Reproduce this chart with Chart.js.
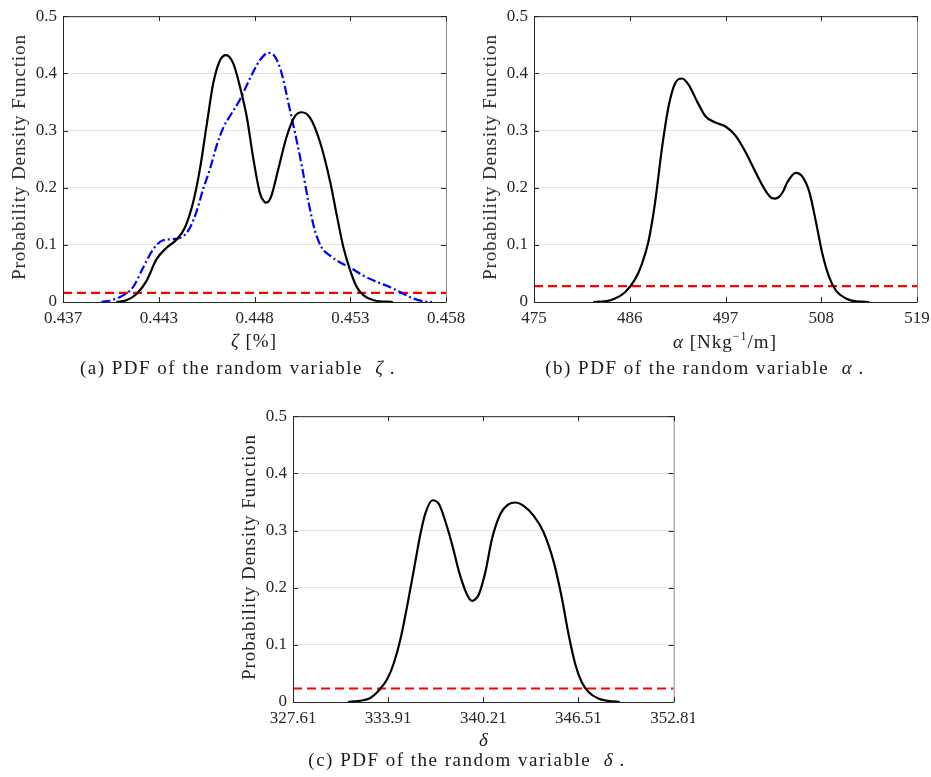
<!DOCTYPE html>
<html>
<head>
<meta charset="utf-8">
<script src="https://cdn.jsdelivr.net/npm/chart.js@4"></script>
<style>
  body { margin: 0; background: #fff; width: 931px; height: 777px; position: relative; overflow: hidden;
         font-family: "Liberation Serif", "DejaVu Serif", serif; color: #262626; }
  .box { position: absolute; }
  .txt { position: absolute; white-space: nowrap; transform: translate(-50%, -50%); font-size: 19px; color: #1a1a1a; letter-spacing: 1px; }
  .cap { letter-spacing: 1.5px; }
  .ytitle { position: absolute; white-space: nowrap; transform: translate(-50%, -50%) rotate(-90deg);
            font-size: 19px; letter-spacing: 0.9px; color: #262626; }
</style>
</head>
<body>
<div class="box" style="left:0;top:0;width:465px;height:350px"><canvas id="chart-a"></canvas></div>
<div class="box" style="left:471px;top:0;width:460px;height:350px"><canvas id="chart-b"></canvas></div>
<div class="box" style="left:230px;top:400px;width:465px;height:350px"><canvas id="chart-c"></canvas></div>

<div class="ytitle" style="left:19px;top:157px">Probability Density Function</div>
<div class="ytitle" style="left:490px;top:157px">Probability Density Function</div>
<div class="ytitle" style="left:249px;top:557px">Probability Density Function</div>

<div class="txt" style="left:254px;top:341px"><i>ζ</i> [%]</div>
<div class="txt" style="left:725px;top:341px"><i>α</i> [Nkg<sup style="font-size:12px">−1</sup>/m]</div>
<div class="txt" style="left:484px;top:740px"><i>δ</i></div>

<div class="txt cap" style="left:238px;top:368px">(a) PDF of the random variable &nbsp;<i>ζ</i>&thinsp;.</div>
<div class="txt cap" style="left:705px;top:368px">(b) PDF of the random variable &nbsp;<i>α</i>&thinsp;.</div>
<div class="txt cap" style="left:467px;top:760px">(c) PDF of the random variable &nbsp;<i>δ</i>&thinsp;.</div>

<script>
// ---- data ----
const yTicks = [0, 0.1, 0.2, 0.3, 0.4, 0.5];

// (a) zeta
const zetaTickLabels = ['0.437', '0.443', '0.448', '0.453', '0.458'];
const zetaRange = [0.437, 0.458];
const zetaX = [0.43993, 0.44048, 0.44103, 0.44158, 0.44213, 0.44268, 0.44322, 0.44368, 0.44414, 0.44451, 0.44487,
  0.44524, 0.44561, 0.44594, 0.44634, 0.44670, 0.44707, 0.44744, 0.44780, 0.44800, 0.44813, 0.44828, 0.44844, 0.44881, 0.44927,
  0.44972, 0.45009, 0.45055, 0.45110, 0.45165, 0.45201, 0.45238, 0.45275, 0.45311, 0.45348, 0.45403, 0.45509];
const zetaPdf = [0, 0.003, 0.014, 0.037, 0.075, 0.095, 0.109, 0.13, 0.175, 0.233, 0.308,
  0.383, 0.423, 0.432, 0.417, 0.377, 0.325, 0.25, 0.19, 0.177, 0.174, 0.176, 0.187, 0.233, 0.29,
  0.325, 0.332, 0.322, 0.279, 0.21, 0.152, 0.095, 0.055, 0.026, 0.0115, 0.003, 0];
const zetaX2 = [0.43911, 0.43975, 0.44029, 0.44084, 0.44139, 0.44194, 0.44249, 0.44304, 0.44359, 0.44396, 0.44432,
  0.44469, 0.44506, 0.44542, 0.44579, 0.44615, 0.44670, 0.44725, 0.44780, 0.44826, 0.44863, 0.44899, 0.44936,
  0.44972, 0.45009, 0.45046, 0.45082, 0.45119, 0.45165, 0.45220, 0.45275, 0.45348, 0.45421, 0.45494, 0.45568,
  0.45622, 0.45677, 0.45723];
const zetaPdf2 = [0, 0.004, 0.0115, 0.026, 0.06, 0.092, 0.108, 0.110, 0.115, 0.13, 0.158,
  0.198, 0.233, 0.273, 0.305, 0.325, 0.354, 0.391, 0.423, 0.436, 0.429, 0.40, 0.348,
  0.296, 0.239, 0.175, 0.124, 0.095, 0.081, 0.069, 0.06, 0.046, 0.035, 0.026, 0.014,
  0.006, 0.001, 0];
const zetaLevel = 0.016;

// (b) alpha
const alphaTickLabels = ['475', '486', '497', '508', '519'];
const alphaRange = [475, 519];
const alphaX = [481.81, 483.15, 484.31, 485.46, 486.62, 487.38, 488.15, 488.92, 489.69, 490.46, 491.23, 492.0,
  492.77, 493.73, 494.69, 495.85, 497.0, 498.15, 499.31, 500.46, 501.2, 501.8, 502.3, 502.7, 503.15, 503.6, 504.12, 505.08,
  505.85, 506.62, 507.38, 508.15, 508.92, 509.69, 510.85, 512.0, 513.54];
const alphaPdf = [0, 0.001, 0.006, 0.017, 0.040, 0.066, 0.106, 0.175, 0.268, 0.342, 0.383, 0.391,
  0.380, 0.351, 0.325, 0.314, 0.307, 0.291, 0.262, 0.227, 0.205, 0.190, 0.182, 0.181, 0.184, 0.193, 0.210, 0.226,
  0.219, 0.193, 0.141, 0.083, 0.043, 0.020, 0.006, 0.001, 0];
const alphaLevel = 0.0276;

// (c) delta
const deltaTickLabels = ['327.61', '333.91', '340.21', '346.51', '352.81'];
const deltaRange = [327.61, 352.81];
const deltaX = [331.24, 332.0, 332.66, 333.32, 333.87, 334.31, 334.75, 335.19, 335.63, 336.07, 336.40, 336.84,
  337.28, 337.72, 338.16, 338.60, 339.03, 339.30, 339.47, 339.65, 339.91, 340.35, 340.79, 341.34, 341.89, 342.33, 342.88,
  343.54, 344.20, 344.86, 345.41, 345.85, 346.29, 346.72, 347.16, 347.82, 348.48, 349.25];
const deltaPdf = [0, 0.002, 0.006, 0.021, 0.041, 0.070, 0.113, 0.171, 0.234, 0.297, 0.332, 0.353,
  0.346, 0.314, 0.274, 0.228, 0.194, 0.180, 0.177, 0.179, 0.188, 0.228, 0.286, 0.329, 0.346, 0.349, 0.343,
  0.326, 0.297, 0.246, 0.182, 0.119, 0.067, 0.035, 0.018, 0.006, 0.002, 0];
const deltaLevel = 0.0236;

// ---- helpers ----
const FONT = '"Liberation Serif", "DejaVu Serif", serif';
const AXIS = '#262626';

// turn two arrays into {x, y} points
function toPoints(xs, ys) {
  return xs.map((x, i) => ({ x: x, y: ys[i] }));
}

// MATLAB-like box with inward ticks on all four sides
const boxPlugin = {
  id: 'box',
  afterDatasetsDraw(chart) {
    const { ctx, chartArea: a, scales } = chart;
    ctx.save();
    ctx.lineWidth = 1;
    ctx.strokeStyle = AXIS;
    ctx.beginPath();
    ctx.moveTo(a.left + 0.5, a.top + 0.5);
    ctx.lineTo(a.left + 0.5, a.bottom + 0.5);
    ctx.lineTo(a.right + 0.5, a.bottom + 0.5);
    ctx.moveTo(a.left + 0.5, a.top + 0.5);
    ctx.lineTo(a.right + 0.5, a.top + 0.5);
    ctx.stroke();
    ctx.strokeStyle = '#8c8c8c';
    ctx.beginPath();
    ctx.moveTo(a.right + 0.5, a.top + 0.5);
    ctx.lineTo(a.right + 0.5, a.bottom + 0.5);
    ctx.stroke();
    ctx.strokeStyle = AXIS;
    ctx.beginPath();
    scales.y.ticks.forEach(t => {
      const py = Math.round(scales.y.getPixelForValue(t.value)) + 0.5;
      ctx.moveTo(a.left, py); ctx.lineTo(a.left + 5, py);
      ctx.moveTo(a.right, py); ctx.lineTo(a.right - 5, py);
    });
    scales.x.ticks.forEach(t => {
      const px = Math.round(scales.x.getPixelForValue(t.value)) + 0.5;
      ctx.moveTo(px, a.bottom); ctx.lineTo(px, a.bottom - 5);
      ctx.moveTo(px, a.top); ctx.lineTo(px, a.top + 5);
    });
    ctx.stroke();
    ctx.restore();
  }
};

// build one PDF subplot
function makeChart(id, range, tickLabels, curves, level, padRight) {
  const datasets = curves.map(c => ({
    data: toPoints(c.x, c.y),
    borderColor: c.color,
    borderWidth: 2.2,
    borderDash: c.dash || [],
    pointRadius: 0,
    cubicInterpolationMode: 'monotone',
    fill: false
  }));
  // horizontal red dashed reference level
  datasets.push({
    data: [{ x: range[0], y: level }, { x: range[1], y: level }],
    borderColor: '#ff0000',
    borderWidth: 2.2,
    borderDash: [9, 5],
    pointRadius: 0,
    fill: false
  });

  return new Chart(document.getElementById(id), {
    type: 'line',
    data: { datasets: datasets },
    plugins: [boxPlugin],
    options: {
      responsive: true,
      maintainAspectRatio: false,
      animation: false,
      layout: { padding: { top: 12, right: padRight, left: 0, bottom: 0 } },
      plugins: { legend: { display: false }, tooltip: { enabled: false } },
      scales: {
        x: {
          type: 'linear',
          min: range[0],
          max: range[1],
          afterBuildTicks: scale => {
            scale.ticks = tickLabels.map((l, i) => ({ value: range[0] + i * (range[1] - range[0]) / (tickLabels.length - 1) }));
          },
          afterFit: scale => { scale.height = 48; },
          grid: { display: false },
          border: { display: false },
          ticks: {
            callback: (v, i) => tickLabels[i],
            color: AXIS,
            padding: -2,
            maxRotation: 0,
            font: { family: FONT, size: 17 }
          }
        },
        y: {
          min: 0,
          max: 0.5,
          afterBuildTicks: scale => { scale.ticks = yTicks.map(v => ({ value: v })); },
          afterFit: scale => { scale.width = 63; },
          grid: { color: '#e3e3e3', drawTicks: false },
          border: { display: false },
          ticks: {
            callback: v => String(+v.toFixed(1)),
            color: AXIS,
            padding: 6,
            font: { family: FONT, size: 17 }
          }
        }
      }
    }
  });
}

document.addEventListener('DOMContentLoaded', function() {
  makeChart('chart-a', zetaRange, zetaTickLabels, [
    { x: zetaX, y: zetaPdf, color: '#000000' },
    { x: zetaX2, y: zetaPdf2, color: '#0000ff', dash: [9, 3, 2, 3] }
  ], zetaLevel, 19);

  makeChart('chart-b', alphaRange, alphaTickLabels, [
    { x: alphaX, y: alphaPdf, color: '#000000' }
  ], alphaLevel, 14);

  makeChart('chart-c', deltaRange, deltaTickLabels, [
    { x: deltaX, y: deltaPdf, color: '#000000' }
  ], deltaLevel, 19);
});
</script>
</body>
</html>
